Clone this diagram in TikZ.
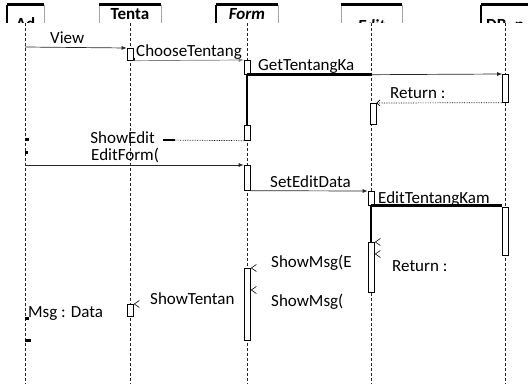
\documentclass[tikz,border=0pt]{standalone}
\usepackage{fontspec}
\setmainfont{Carlito}
\usetikzlibrary{arrows.meta}

\tikzset{
  headbox/.style={draw=gray!70, fill=white, minimum height=26pt, inner sep=0pt},
  headtxt/.style={anchor=base, font=\bfseries, inner sep=0pt},
  lifeline/.style={densely dashed, gray!30!black, line width=0.6pt},
  act/.style={draw, fill=white, anchor=north, minimum width=6pt, inner sep=0pt, line width=0.7pt},
  msg/.style={-{Latex[length=5pt,width=4pt]}, gray!30!black, line width=0.7pt},
  ret/.style={densely dotted, -{Straight Barb[length=3pt,width=6pt]}, line width=0.7pt},
  thickline/.style={line width=2.6pt},
  lbl/.style={anchor=base west, inner sep=0pt},
  speck/.style={fill=black, inner sep=0pt},
  barb/.pic={\draw[line width=0.6pt] (5,-3.5) -- (0,0) -- (5,3.5);}
}

\begin{document}
\fontsize{17}{20}\selectfont
\begin{tikzpicture}[x=1pt, y=-1pt]
\useasboundingbox (0,0) rectangle (528,385);

% --- Heads ---
\begin{scope}
  \clip (0,0) rectangle (528,23);
  \foreach \n/\x/\w in {Ad/25.5/37, Tenta/130/62, Form/247/62, Edit/371.5/61, DB/505/48} {
      \node[headbox, minimum width=\w pt] (h\n) at (\x,18) {};
      \draw[thickline] (h\n.north west) -- (h\n.north east);
  }
  \foreach \n in {Ad,Form,DB} {
      \draw[thickline] (h\n.north west) -- (h\n.south west);
  }
  \node[headtxt] (tAd) at (25.5,30) {Ad};
  \node[headtxt] (tTenta) at (130,19.5) {Tenta};
  \node[headtxt, font=\bfseries\itshape] (tForm) at (247,20) {Form};
  \node[headtxt, font=\bfseries\itshape] (tEdit) at (371.5,32) {Edit};
  \node[headtxt] (tDB) at (505,31) {DB\_p};
\end{scope}

% --- Lifelines ---
\foreach \n in {Ad,Tenta,Form,Edit,DB} {
    \draw[lifeline] (h\n |- 0,23) -- (h\n |- 0,384);
}

% --- Activations ---
\foreach \n/\x/\y/\h in {aT1/130/48/12, aF1/247/60/14, aB1/505.5/74/28, aE1/373/103/21,
    aF2/247/125/15, aF3/247/165/25, aE2/371/191/14, aE3/371/242/50,
    aB2/505.5/207/48, aF4/247/268/72, aT2/130/304/12} {
    \node[act, minimum height=\h pt] (\n) at (\x,\y) {};
}
\draw[thickline] (aF1.south) -- (aF2.north);
\draw[thickline] (aE2.south) -- (aE3.north);
\draw[line width=2pt] ([xshift=1pt,yshift=-4pt]aT1.east) -- ([xshift=1pt]aT1.south east);

% --- Messages ---
\coordinate (ad1) at (25,47);
\coordinate (ad2) at (25,165);
\coordinate (se) at (163,140);

\draw[msg] (ad1) -- (aT1.north west);
\node[lbl] (lView) at (50,44) {View};

\draw[msg, gray] (aT1.south east) -- (aF1.north west);
\node[lbl] (lChoose) at (136,57) {ChooseTentang};

\draw[thickline] (aF1.south) -- (aF1.south -| hEdit);
\draw[msg] (aF1.south -| hEdit) -- (aB1.north west);
\node[lbl] (lGet) at (258,71) {GetTentangKa};

\draw[ret] (aB1.south west) -- (aE1.north east);
\node[lbl] (lRet1) at (390,99) {Return :};

\draw[densely dotted, line width=0.7pt] (aF2.south west) -- (se);
\draw[line width=2pt] (se) -- ++(12,0);
\node[lbl, anchor=base east] (lShowEdit) at (155,144) {ShowEdit};

\draw[msg] (ad2) -- (aF3.north west);
\node[lbl] (lForm) at (91,161) {EditForm(};

\draw[msg] (aF3.south east) -- (aE2.north west);
\node[lbl] (lSet) at (270,188) {SetEditData};

\draw[thickline] (aE2.south) -- (aE2.south -| aB2.west);
\node[lbl] (lEditT) at (378,204) {EditTentangKam};

\node[lbl] (lRet2) at (392,272) {Return :};
\node[lbl] (lMsgE) at (271,267) {ShowMsg(E};
\node[lbl] (lMsg) at (271,306) {ShowMsg(};
\node[lbl] (lShowT) at (150,304) {ShowTentan};
\node[lbl] (lData) at (28,317) {Msg : Data};

% --- Return marks ---
\foreach \p in {aF4.north east, aE3.north east, aT2.north east} {
    \pic at ([xshift=1pt]\p) {barb};
}
\pic at ([xshift=1pt,yshift=-22pt]aF4.north east) {barb};
\pic at ([xshift=1pt,yshift=-12pt]aE3.north east) {barb};

% --- Specks on Ad ---
\foreach \y/\w in {140/4, 153/3, 318/4, 340/6} {
    \node[speck, minimum width=\w pt, minimum height=3pt, anchor=west] (s\y) at (25,\y) {};
}

\end{tikzpicture}
\end{document}
